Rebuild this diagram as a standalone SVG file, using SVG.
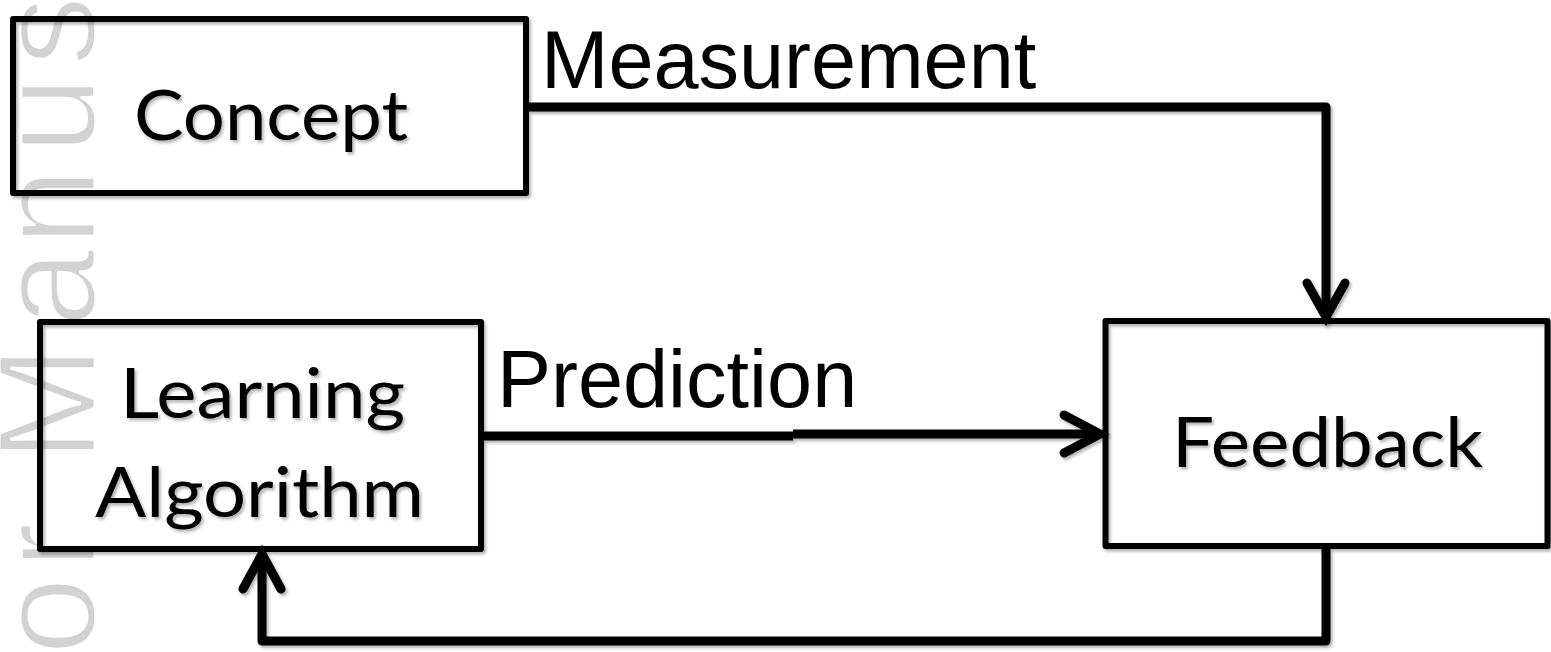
<svg xmlns="http://www.w3.org/2000/svg" width="1551" height="652" viewBox="0 0 1551 652">
  <style>
    .box { fill: none; stroke: #000; stroke-width: 6; stroke-linejoin: round; }
    .node-label { font-family: Lato, "Open Sans", "DejaVu Sans", sans-serif; font-size: 70px; fill: #000; text-anchor: middle; }
    .edge-label { font-family: "Liberation Sans", Arial, sans-serif; fill: #000; }
    .wire { fill: none; stroke: #000; stroke-width: 9; stroke-linejoin: round; }
    .head { fill: none; stroke: #000; stroke-width: 9; stroke-linecap: round; stroke-linejoin: miter; }
    .mark { font-family: "Liberation Sans", Arial, sans-serif; font-size: 140px; fill: #d2d2d2; stroke: #fff; stroke-width: 3; }
  </style>
  <defs>
    <filter id="soft" x="-10%" y="-10%" width="120%" height="130%">
      <feDropShadow dx="2" dy="2.5" stdDeviation="1.6" flood-color="#000" flood-opacity="0.3"/>
    </filter>
  </defs>

  <rect width="1551" height="652" fill="#fff"/>

  <!-- faint vertical watermark along the left margin -->
  <text class="mark" transform="rotate(-90)" x="-655 -569 -520 -462 -327 -246 -154 -66" y="95">or Manus</text>

  <!-- connectors -->
  <g id="connectors" filter="url(#soft)">
    <!-- Concept -> Feedback -->
    <path class="wire" d="M529 107 H1326 V316"/>
    <polyline class="head" points="1307,283 1326,317 1345,283"/>
    <!-- Learning Algorithm -> Feedback -->
    <path class="wire" d="M484 436 H793"/>
    <path class="wire" d="M793 434 H1100"/>
    <polyline class="head" points="1064,415 1100,434 1064,453"/>
    <!-- Feedback -> Learning Algorithm -->
    <path class="wire" d="M1326 549 V641 H262 V555"/>
    <polyline class="head" points="243,589 262,554 281,589"/>
  </g>

  <!-- edge labels -->
  <text class="edge-label" x="541" y="88" font-size="81">Measurement</text>
  <text class="edge-label" x="497" y="407" font-size="81">Prediction</text>

  <g id="concept" filter="url(#soft)">
    <rect class="box" x="13" y="19" width="513" height="174"/>
    <text class="node-label" x="271" y="140" textLength="274" lengthAdjust="spacingAndGlyphs">Concept</text>
  </g>

  <g id="learning-algorithm" filter="url(#soft)">
    <rect class="box" x="40" y="322" width="441" height="227"/>
    <text class="node-label" x="262.5" y="418" textLength="285" lengthAdjust="spacingAndGlyphs">Learning</text>
    <text class="node-label" x="259.5" y="517" textLength="329" lengthAdjust="spacingAndGlyphs">Algorithm</text>
  </g>

  <g id="feedback" filter="url(#soft)">
    <rect class="box" x="1105.5" y="321" width="442" height="225"/>
    <text class="node-label" x="1327.5" y="467" textLength="311" lengthAdjust="spacingAndGlyphs">Feedback</text>
  </g>
</svg>
